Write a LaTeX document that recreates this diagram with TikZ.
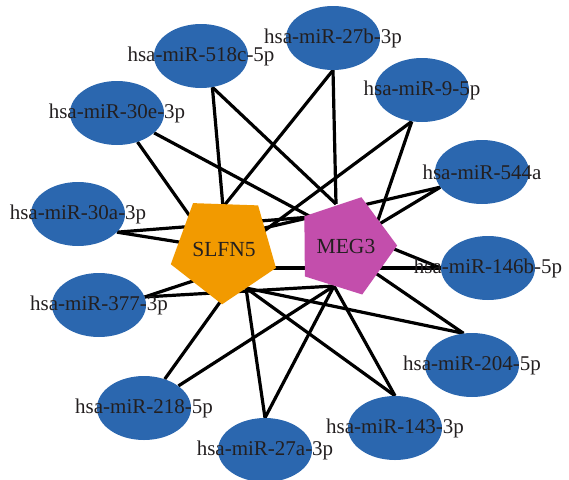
\documentclass[tikz,border=0pt]{standalone}
\usepackage{fontspec}
\setmainfont{Liberation Serif}
\usetikzlibrary{shapes.geometric,backgrounds}
\definecolor{mirblue}{RGB}{43,103,175}
\definecolor{slfnorange}{RGB}{242,154,0}
\definecolor{megpink}{RGB}{195,78,172}
\definecolor{labeltext}{RGB}{35,31,32}

\begin{document}
\begin{tikzpicture}[x=1pt, y=-1pt,
    mirna/.style = {ellipse, fill=mirblue, minimum width=94pt, minimum height=64pt, inner sep=0pt, text=labeltext, font=\fontsize{21}{25}\selectfont},
    gene/.style = {regular polygon, regular polygon sides=5, inner sep=0pt, outer sep=0pt, text=labeltext, font=\fontsize{21.5}{25}\selectfont},
    link/.style = {line width=3.2pt}]
    \useasboundingbox (0,0) rectangle (569,479);
    \clip (0,0) rectangle (569,479);
    \node[gene, fill=slfnorange, minimum size=106pt, shape border rotate=178] (slfn5) at (224,249) {SLFN5};
    \node[gene, fill=megpink, minimum size=98pt, shape border rotate=-89.5] (meg3) at (346,246) {MEG3};

    \node[mirna] (m27b) at (333,38) {\makebox[0pt]{hsa-miR-27b-3p}};
    \node[mirna] (m518c) at (201,56) {\makebox[0pt]{hsa-miR-518c-5p}};
    \node[mirna] (m9) at (422,90) {\makebox[0pt]{hsa-miR-9-5p}};
    \node[mirna] (m30e) at (117,113) {\makebox[0pt]{hsa-miR-30e-3p}};
    \node[mirna] (m544a) at (482,172) {\makebox[0pt]{hsa-miR-544a}};
    \node[mirna] (m30a) at (78,214) {\makebox[0pt]{hsa-miR-30a-3p}};
    \node[mirna] (m146b) at (488,268) {\makebox[0pt]{hsa-miR-146b-5p}};
    \node[mirna] (m377) at (99,305) {\makebox[0pt]{hsa-miR-377-3p}};
    \node[mirna] (m204) at (472,365) {\makebox[0pt]{hsa-miR-204-5p}};
    \node[mirna] (m218) at (144,408) {\makebox[0pt]{hsa-miR-218-5p}};
    \node[mirna] (m143) at (395,428) {\makebox[0pt]{hsa-miR-143-3p}};
    \node[mirna] (m27a) at (265,450) {\makebox[0pt]{hsa-miR-27a-3p}};

    \coordinate (s-top) at (223,207);
    \coordinate (s-left) at (194,222);
    \coordinate (s-leftb) at (185,243);
    \coordinate (s-right) at (260,234);
    \coordinate (s-rightb) at (260,229);
    \coordinate (s-east) at (268,268);
    \coordinate (s-lowleft) at (196,280);
    \coordinate (s-bottom) at (223,298);
    \coordinate (s-hub) at (246,288);
    \coordinate (m-top) at (336,204);
    \coordinate (m-left) at (311,217);
    \coordinate (m-right) at (376,226);
    \coordinate (m-east) at (394,249);
    \coordinate (m-lowright) at (374,272);
    \coordinate (m-hub) at (334,286);

    \begin{scope}[on background layer]
    \draw[link] (m518c.290) -- (s-top);
    \draw[link] (m518c.290) -- (m-top);
    \draw[link] (m27b.south) -- (s-top);
    \draw[link] (m27b.south) -- (m-top);
    \draw[link] (m30e) -- (s-left);
    \draw[link] (m30e) -- (m-left);
    \draw[link] (m30a.335) -- (s-leftb);
    \draw[link] (m30a.335) -- (m-left);
    \draw[link] (m9.252) -- (s-right);
    \draw[link] (m9.252) -- (m-right);
    \draw[link] (m544a.200) -- (s-rightb);
    \draw[link] (m544a.200) -- (m-right);
    \draw[link] (m146b.west) -- (s-east);
    \draw[link] (m146b.west) -- (m-east);
    \draw[link] (m377.10) -- (s-lowleft);
    \draw[link] (m377.10) -- (m-hub);
    \draw[link] (m218) -- (s-bottom);
    \draw[link] (m218) -- (m-hub);
    \draw[link] (m27a.north) -- (s-hub);
    \draw[link] (m27a.north) -- (m-hub);
    \draw[link] (m143.north) -- (s-hub);
    \draw[link] (m143.north) -- (m-hub);
    \draw[link] (m204.105) -- (s-hub);
    \draw[link] (m204.105) -- (m-lowright);
    \end{scope}
\end{tikzpicture}
\end{document}
